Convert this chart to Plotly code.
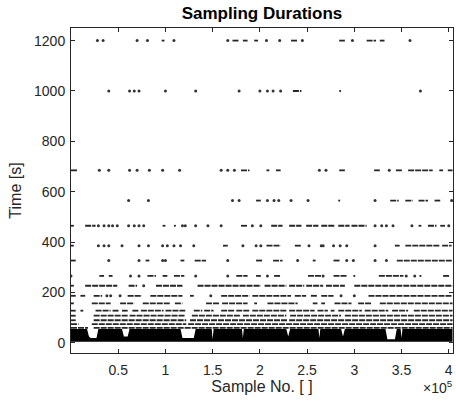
import plotly.graph_objects as go

# ---------------- data (sample positions in thousands of samples, durations in s) ----------------
x_tick_vals = [50000, 100000, 150000, 200000, 250000, 300000, 350000, 400000]
x_tick_text = ["0.5", "1", "1.5", "2", "2.5", "3", "3.5", "4"]
y_tick_vals = [0, 200, 400, 600, 800, 1000, 1200]

# runs of samples (start_k, end_k) found at each discrete duration level
runs_1200 = [(28, 28), (34, 34), (70, 70), (81, 81), (96, 99), (109, 109), (166, 166), (171, 178),
             (182, 187), (194, 198), (207, 207), (221, 221), (233, 240), (245, 245), (284, 290),
             (298, 298), (313, 323), (327, 332), (359, 359)]
runs_1000 = [(40, 40), (62, 62), (67, 67), (72, 72), (100, 100), (132, 132), (178, 178), (200, 200),
             (208, 208), (214, 214), (222, 222), (235, 244), (284, 286), (370, 370)]
runs_685 = [(0, 7), (30, 30), (40, 40), (62, 62), (70, 70), (83, 83), (97, 97), (115, 115), (159, 159),
            (166, 166), (173, 173), (180, 189), (207, 210), (217, 222), (263, 263), (270, 270),
            (284, 290), (321, 327), (337, 337), (344, 351), (357, 383), (390, 394), (399, 404)]
runs_565 = [(61, 61), (82, 82), (171, 171), (178, 178), (196, 201), (208, 208), (215, 215), (220, 220),
            (233, 233), (251, 251), (283, 285), (322, 322), (338, 347), (354, 362), (368, 378),
            (385, 391), (403, 403)]
runs_465 = [(0, 3), (15, 26), (29, 29), (35, 35), (40, 40), (44, 44), (49, 49), (61, 61), (67, 67),
            (72, 72), (77, 77), (97, 100), (109, 111), (118, 118), (121, 121), (132, 132), (145, 145),
            (159, 159), (180, 187), (192, 192), (201, 201), (212, 224), (231, 244), (249, 262),
            (265, 279), (283, 295), (297, 313), (322, 322), (329, 329), (334, 334), (341, 341),
            (361, 361), (368, 371), (378, 387), (391, 396), (400, 400)]
runs_386 = [(0, 3), (29, 29), (35, 35), (40, 40), (54, 54), (72, 72), (82, 82), (97, 97), (102, 102),
            (109, 109), (116, 116), (130, 130), (161, 166), (182, 182), (196, 196), (201, 201),
            (207, 222), (237, 244), (252, 252), (265, 265), (267, 267), (278, 278), (285, 285),
            (292, 292), (322, 322), (343, 348), (354, 391), (393, 403)]
runs_327 = [(0, 5), (40, 40), (72, 72), (79, 83), (97, 97), (100, 100), (116, 120), (131, 143),
            (166, 166), (196, 203), (214, 224), (240, 240), (256, 259), (278, 285), (292, 292),
            (299, 299), (322, 322), (334, 334), (345, 404)]
runs_266 = [(0, 0), (30, 35), (40, 44), (63, 63), (72, 72), (81, 90), (97, 102), (109, 120), (132, 132),
            (166, 166), (175, 187), (196, 201), (208, 208), (215, 222), (251, 265), (267, 267),
            (278, 292), (299, 301), (326, 352), (355, 355), (364, 364), (369, 371), (394, 401)]
runs_227 = [(0, 3), (15, 49), (61, 70), (77, 77), (90, 118), (134, 201), (205, 228), (231, 247),
            (249, 267), (270, 290), (300, 404)]
runs_187 = [(0, 5), (10, 15), (24, 33), (38, 38), (42, 42), (52, 52), (60, 75), (84, 118), (126, 130),
            (148, 148), (159, 189), (192, 233), (237, 249), (254, 261), (265, 278), (286, 286),
            (300, 300), (315, 404)]
runs_157 = [(0, 3), (22, 42), (52, 67), (76, 105), (110, 118), (143, 157), (160, 187), (194, 197),
            (208, 240), (256, 261), (265, 269), (279, 297), (304, 318), (327, 404)]
runs_128 = [(0, 5), (10, 13), (26, 42), (44, 51), (54, 60), (65, 72), (74, 98), (100, 121), (130, 139),
            (141, 151), (159, 173), (175, 189), (192, 229), (231, 258), (261, 272), (275, 279),
            (283, 308), (311, 336), (340, 357), (363, 404)]
runs_108 = [(0, 5), (24, 60), (62, 121), (128, 180), (182, 228), (232, 286), (290, 404)]
runs_90 = [(0, 5), (24, 122), (126, 229), (231, 404)]
runs_75 = [(0, 8), (22, 122), (124, 404)]
runs_60 = [(0, 18), (24, 404)]

level_values = [1200, 1000, 685, 565, 465, 386, 327, 266, 227, 187, 157, 128, 108, 90, 75, 60]
level_runs = [runs_1200, runs_1000, runs_685, runs_565, runs_465, runs_386, runs_327, runs_266,
              runs_227, runs_187, runs_157, runs_128, runs_108, runs_90, runs_75, runs_60]

# dense band of short durations: upper envelope (k samples, s) and floor
band_x = [0, 17, 19, 21, 27, 29, 54, 56, 60, 62, 116, 118, 130, 132, 149, 150, 151, 181, 182, 183,
          228, 230, 232, 262, 263, 264, 286, 288, 290, 333, 335, 343, 345, 349, 350, 351, 404]
band_top = [55, 55, 25, 20, 20, 55, 55, 25, 25, 55, 55, 20, 20, 55, 55, 15, 55, 55, 20, 55,
            55, 25, 55, 55, 20, 55, 55, 25, 55, 55, 15, 15, 55, 55, 20, 55, 55]
band_floor = 5

# ---------------- figure ----------------
K = 1000
fig = go.Figure()

bx = [v * K for v in band_x] + [v * K for v in band_x[::-1]]
by = band_top + [band_floor] * len(band_x)
fig.add_trace(go.Scatter(x=bx, y=by, mode="lines", fill="toself", fillcolor="#000000",
                         line=dict(width=0), hoverinfo="skip", showlegend=False))

lx, ly, dx, dy = [], [], [], []
for lvl, runs in zip(level_values, level_runs):
    for a, b in runs:
        if b > a:
            lx += [a * K, b * K, None]
            ly += [lvl, lvl, None]
        else:
            dx.append(a * K)
            dy.append(lvl)

fig.add_trace(go.Scatter(x=lx, y=ly, mode="lines",
                         line=dict(color="#262626", width=1.8, dash="6px,1px"),
                         hoverinfo="skip", showlegend=False))
fig.add_trace(go.Scatter(x=dx, y=dy, mode="markers",
                         marker=dict(color="#333333", size=3, line=dict(width=0)),
                         hoverinfo="skip", showlegend=False))

font_family = "Liberation Sans, Arial, Helvetica, sans-serif"
axis_col = "#262626"

fig.update_layout(
    template="none",
    width=456, height=408,
    margin=dict(l=71, r=3, t=28, b=55, autoexpand=False),
    paper_bgcolor="white", plot_bgcolor="white",
    font=dict(family=font_family, color=axis_col, size=14),
    title=dict(text="<b>Sampling Durations</b>", x=0.5, xref="paper", xanchor="center",
               y=1 - 13.5 / 408, yanchor="middle", yref="container",
               font=dict(family=font_family, size=17, color="#000000")),
    xaxis=dict(range=[0, 404500], tickvals=x_tick_vals, ticktext=x_tick_text,
               ticks="inside", ticklen=4, tickcolor=axis_col, showline=True, linecolor=axis_col,
               linewidth=1, mirror="ticks", showgrid=False, zeroline=False, automargin=False,
               tickfont=dict(size=14, color=axis_col), ticklabelstandoff=4,
               title=dict(text="Sample No. [ ]", font=dict(size=16, color=axis_col), standoff=1)),
    yaxis=dict(range=[-40, 1250], tickvals=y_tick_vals,
               ticks="inside", ticklen=4, tickcolor=axis_col, showline=True, linecolor=axis_col,
               linewidth=1, mirror="ticks", showgrid=False, zeroline=False, automargin=False,
               tickfont=dict(size=14, color=axis_col), ticklabelstandoff=2,
               title=dict(text="Time [s]", font=dict(size=16, color=axis_col), standoff=8)),
)

fig.add_annotation(text="×10<sup>5</sup>", xref="paper", yref="paper", x=1, y=0,
                   xanchor="right", yanchor="top", xshift=2, yshift=-23, showarrow=False,
                   font=dict(family=font_family, size=14, color=axis_col))

fig.write_html("out.html", config={"displayModeBar": False},
               post_script="document.body.style.margin='0';document.body.style.overflow='hidden';")
